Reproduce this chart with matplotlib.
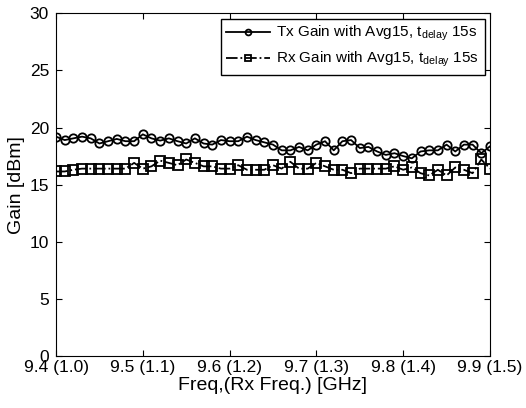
import numpy as np
import matplotlib
matplotlib.use("Agg")
import matplotlib.pyplot as plt

plt.rcParams['font.family'] = ['Liberation Sans', 'DejaVu Sans']
plt.rcParams['mathtext.fontset'] = 'custom'
plt.rcParams['mathtext.rm'] = 'Liberation Sans'
plt.rcParams['mathtext.it'] = 'Liberation Sans'

# frequency axis (GHz), 0.01 GHz step
freq = np.round(np.arange(9.40, 9.9001, 0.01), 2)

tx_gain = [19.2, 18.9, 19.05, 19.2, 19.05, 18.6, 18.8, 19.0, 18.8, 18.8,
           19.4, 19.05, 18.85, 19.05, 18.8, 18.6, 19.05, 18.6, 18.5, 18.9,
           18.8, 18.8, 19.2, 18.9, 18.7, 18.5, 18.0, 18.0, 18.3, 18.0,
           18.5, 18.8, 18.0, 18.8, 18.9, 18.2, 18.3, 17.9, 17.6, 17.75,
           17.5, 17.3, 17.9, 18.0, 18.0, 18.5, 17.9, 18.5, 18.5, 17.75,
           18.35]

rx_gain = [16.15, 16.15, 16.3, 16.4, 16.4, 16.4, 16.4, 16.4, 16.4, 16.9,
           16.4, 16.6, 17.1, 16.9, 16.7, 17.2, 16.9, 16.6, 16.6, 16.4,
           16.4, 16.7, 16.3, 16.3, 16.3, 16.7, 16.4, 17.0, 16.4, 16.4,
           16.9, 16.6, 16.3, 16.3, 16.0, 16.4, 16.4, 16.4, 16.4, 16.6,
           16.3, 16.5, 16.0, 15.8, 16.3, 15.8, 16.5, 16.3, 16.0, 17.2,
           16.4]

xticks = [9.4, 9.5, 9.6, 9.7, 9.8, 9.9]
xticklabels = ['9.4 (1.0)', '9.5 (1.1)', '9.6 (1.2)', '9.7 (1.3)', '9.8 (1.4)', '9.9 (1.5)']

fig = plt.figure(figsize=(5.26, 4.08), dpi=100)
ax = fig.add_axes([0.1065, 0.1275, 0.825, 0.84])

ax.plot(freq, tx_gain, '-o', color='black', mfc='none', ms=6, lw=1.3, mew=1.3,
        label=r'Tx Gain with Avg15, t$_{\mathrm{delay}}$ 15s')
ax.plot(freq, rx_gain, '-.s', color='black', mfc='none', ms=7, lw=1.3, mew=1.3,
        label=r'Rx Gain with Avg15, t$_{\mathrm{delay}}$ 15s')

ax.set_xlim(9.4, 9.9)
ax.set_ylim(0, 30)
ax.set_xticks(xticks)
ax.set_xticklabels(xticklabels)
ax.set_yticks(range(0, 31, 5))
ax.tick_params(direction='in', top=True, right=True, labelsize=12.5, length=4)
ax.tick_params(axis='x', pad=3)
ax.tick_params(axis='y', pad=5)
ax.set_xlabel('Freq,(Rx Freq.) [GHz]', fontsize=14, labelpad=1)
ax.set_ylabel('Gain [dBm]', fontsize=14, labelpad=3)

leg = ax.legend(loc='upper right', fontsize=11, frameon=True, fancybox=False,
                edgecolor='black', framealpha=1, borderaxespad=0.35,
                handlelength=2.9, handletextpad=0.4, borderpad=0.35,
                labelspacing=0.45, markerscale=0.7)
leg.get_frame().set_linewidth(1.0)

fig.savefig('out.png', dpi=100)
